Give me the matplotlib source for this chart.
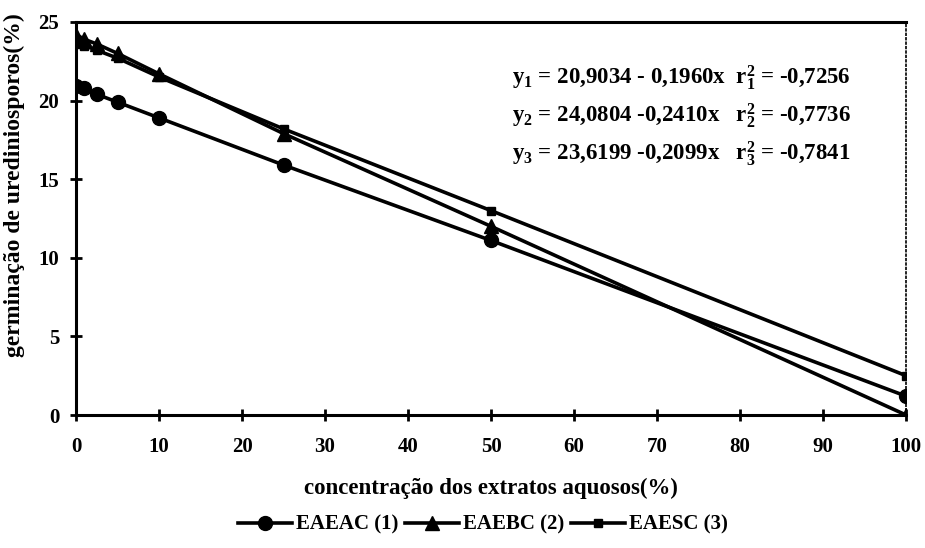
import matplotlib
matplotlib.use("Agg")
import matplotlib.pyplot as plt

plt.rcParams['font.family'] = ['Liberation Serif', 'DejaVu Serif']
plt.rcParams['font.weight'] = 'bold'
plt.rcParams['mathtext.fontset'] = 'custom'
plt.rcParams['mathtext.rm'] = 'Liberation Serif:bold'
plt.rcParams['mathtext.it'] = 'Liberation Serif:bold'
plt.rcParams['mathtext.bf'] = 'Liberation Serif:bold'

concentracao = [0, 1, 2.5, 5, 10, 25, 50, 100]
eaeac = [20.9, 20.8, 20.4, 19.9, 18.9, 15.9, 11.1, 1.2]
eaebc = [24.2, 23.9, 23.6, 23.0, 21.7, 17.9, 12.0, 0.0]
eaesc = [23.6, 23.5, 23.2, 22.7, 21.5, 18.2, 13.0, 2.5]
labels = ['EAEAC (1)', 'EAEBC (2)', 'EAESC (3)']
equacoes = [r'y$_1$ = 20,9034 - 0,1960x  r$^2_1$ = -0,7256',
            r'y$_2$ = 24,0804 -0,2410x   r$^2_2$ = -0,7736',
            r'y$_3$ = 23,6199 -0,2099x   r$^2_3$ = -0,7841']

fig = plt.figure(figsize=(9.25, 5.48), dpi=100)
ax = fig.add_axes([0.0822, 0.2427, 0.8973, 0.7172])

lw = 2.6
ax.plot(concentracao, eaeac, color='black', lw=lw, marker='o', ms=10, label=labels[0])
ax.plot(concentracao, eaebc, color='black', lw=lw, marker='^', ms=10, label=labels[1])
ax.plot(concentracao, eaesc, color='black', lw=lw, marker='s', ms=6, label=labels[2])

ax.set_xlim(0, 100)
ax.set_ylim(0, 25)
ax.set_xticks(range(0, 101, 10))
ax.set_yticks(range(0, 26, 5))
ax.tick_params(direction='inout', length=8, width=2, labelsize=15)
ax.tick_params(axis='x', pad=12)
ax.tick_params(axis='y', pad=8)
for lab in ax.get_xticklabels() + ax.get_yticklabels():
    lab.set_fontweight('bold')
for s in ['left', 'bottom', 'top']:
    ax.spines[s].set_linewidth(2.2)
ax.spines['right'].set_linestyle(':')
ax.spines['right'].set_linewidth(1.2)

ax.set_xlabel('concentração dos extratos aquosos(%)', fontsize=16.5, fontweight='bold')
ax.xaxis.set_label_coords(0.5, -0.16)
ax.set_ylabel('germinação de urediniosporos(%)', fontsize=17, fontweight='bold')
ax.yaxis.set_label_coords(-0.062, 0.585)

for i, eq in enumerate(equacoes):
    fig.text(0.553, 0.858 - i * 0.069, eq, fontsize=16.5, fontweight='bold', va='center')

fig.legend(loc='center', bbox_to_anchor=(0.522, 0.042), ncol=3, frameon=False,
           handlelength=2.6, columnspacing=0.3, handletextpad=0.2,
           prop={'weight': 'bold', 'size': 15})

fig.savefig('out.png', dpi=100)
